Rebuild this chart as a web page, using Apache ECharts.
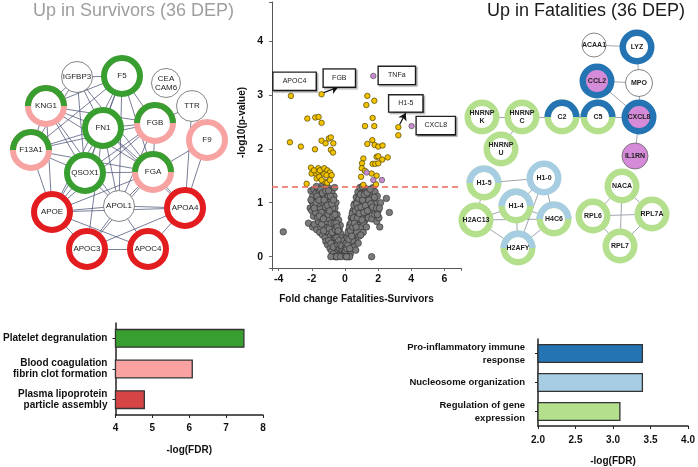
<!DOCTYPE html>
<html><head><meta charset="utf-8">
<script src="https://cdn.jsdelivr.net/npm/echarts@6/dist/echarts.min.js"></script>
<style>html,body{margin:0;padding:0;background:#fff}#c{width:698px;height:467px}</style>
</head><body><div id="c"></div>
<script>
// ================= DATA =================
// Volcano plot: [log fold change (Fatalities - Survivors), -log10(p)]
const greyPoints = [
[-2.05,1.22],[-1.95,1.12],[-1.88,1.25],[-1.8,1.05],[-1.75,1.18],[-1.7,0.95],[-1.65,1.27],[-1.62,1.1],[-1.58,0.88],[-1.55,1.2],
[-1.5,1.02],[-1.47,0.78],[-1.44,1.15],[-1.4,0.92],[-1.38,1.26],[-1.35,0.7],[-1.32,1.08],[-1.3,0.85],[-1.27,1.19],[-1.25,0.62],
[-1.22,0.98],[-1.2,1.28],[-1.18,0.75],[-1.15,1.1],[-1.12,0.55],[-1.1,0.9],[-1.08,1.22],[-1.05,0.68],[-1.03,1.02],[-1.0,0.45],
[-0.98,0.82],[-0.96,1.15],[-0.94,0.58],[-0.92,0.95],[-0.9,1.26],[-0.88,0.38],[-0.86,0.72],[-0.84,1.05],[-0.82,0.5],[-0.8,0.88],
[-0.78,1.2],[-0.76,0.3],[-0.74,0.65],[-0.72,0.98],[-0.7,0.42],[-0.68,0.8],[-0.66,1.12],[-0.64,0.22],[-0.62,0.55],[-0.6,0.9],
[-0.58,0.35],[-0.56,0.7],[-0.54,1.0],[-0.52,0.15],[-0.5,0.48],[-0.48,0.78],[-0.46,0.28],[-0.44,0.6],[-0.42,0.1],[-0.4,0.4],
[-0.38,0.68],[-0.36,0.2],[-0.34,0.5],[-0.32,0.05],[-0.3,0.32],[-0.28,0.58],[-0.26,0.14],[-0.24,0.42],[-0.22,0.25],[-0.2,0.08],
[-0.18,0.35],[-0.16,0.18],[-0.14,0.03],[-0.12,0.26],[-0.1,0.12],[-0.08,0.2],[-0.06,0.06],[-0.04,0.15],[-0.02,0.02],
[-2.2,0.62],[-1.95,0.55],[-2.1,0.9],[-1.9,0.75],[-1.85,0.6],[-1.7,0.5],[-1.6,0.65],[-1.52,0.45],[-1.45,0.55],[-1.35,0.4],
[-1.28,0.48],[-1.2,0.35],[-1.15,0.28],[-1.05,0.22],[-0.98,0.3],[-0.9,0.15],[-0.85,0.25],[-0.8,0.1],[-0.7,0.05],[-0.6,0.0],
[-0.55,0.0],[-0.45,0.0],[-3.72,0.46],[-1.45,1.3],[-1.72,1.3],[-1.1,1.3],[-0.62,1.28],[-1.98,1.02],[-2.0,0.85],[-1.78,0.82],
[-1.66,0.72],[-1.34,0.96],[-1.24,0.8],[-1.14,0.65],[-0.95,0.52],[-0.78,0.45],[-0.7,0.18],[-0.95,0.7],[-1.4,0.6],[-1.5,0.9],
[-1.62,0.98],[-1.9,0.95],[-1.3,1.15],[-1.0,1.12],[-0.74,0.9],
[-1.75,1.0],[-1.68,1.12],[-1.56,1.05],[-1.48,1.25],[-1.42,0.82],[-1.36,1.18],[-1.26,1.05],[-1.18,0.92],[-1.16,1.22],[-1.06,0.95],
[-1.02,0.78],[-0.99,1.22],[-0.93,0.85],[-0.87,1.12],[-0.83,0.62],[-0.79,0.98],[-0.73,0.75],[-0.69,1.05],[-0.65,0.62],[-0.61,0.78],
[-0.57,0.5],[-0.53,0.62],[-0.49,0.35],[-0.47,0.55],[-0.43,0.22],[-0.41,0.48],[-0.37,0.3],[-0.33,0.15],[-0.29,0.22],[-0.27,0.05],
[-0.23,0.12],[-0.19,0.2],[-0.15,0.1],[-0.11,0.05],[-0.07,0.02],[-0.03,0.08],[-0.85,0.0],[-0.5,0.0],[-0.25,0.0],[-1.55,0.75],
[-1.85,0.9],[-2.05,1.05],[-1.3,0.7],
[0.02,0.05],[0.05,0.18],[0.08,0.1],[0.1,0.28],[0.12,0.02],[0.14,0.2],[0.16,0.38],[0.18,0.12],[0.2,0.3],[0.22,0.48],
[0.25,0.22],[0.28,0.42],[0.3,0.6],[0.32,0.05],[0.34,0.35],[0.36,0.55],[0.38,0.72],[0.4,0.25],[0.42,0.5],[0.45,0.68],
[0.48,0.85],[0.5,0.4],[0.52,0.62],[0.55,0.8],[0.58,0.98],[0.6,0.52],[0.62,0.75],[0.65,0.92],[0.68,1.1],[0.7,0.65],
[0.72,0.85],[0.75,1.02],[0.78,1.2],[0.8,0.58],[0.82,0.78],[0.85,0.95],[0.88,1.12],[0.9,0.7],[0.92,0.9],[0.95,1.05],
[0.98,1.25],[1.0,0.82],[1.02,1.0],[1.05,1.18],[1.08,0.75],[1.1,0.95],[1.12,1.12],[1.15,1.28],[1.18,0.88],[1.2,1.05],
[1.22,0.68],[1.25,1.2],[1.28,0.92],[1.3,1.1],[1.32,0.8],[1.35,1.25],[1.38,1.0],[1.4,0.72],[1.42,1.15],[1.45,0.9],
[1.48,1.22],[1.5,1.05],[1.55,0.85],[1.58,1.18],[1.6,0.95],[1.62,0.7],[1.65,1.1],[1.7,1.28],[1.72,0.88],[1.75,1.05],
[1.8,0.78],[1.82,1.2],[1.88,0.98],[1.92,0.65],[1.95,1.12],[2.0,0.85],[2.05,0.72],[2.1,0.55],[2.15,1.0],[2.5,1.08],
[2.68,0.82],[1.61,0.0],[0.25,0.0],[0.15,0.0],[0.38,0.15],[0.6,0.3],[0.7,0.45],[0.85,0.38],[0.55,0.18],[1.0,0.55],
[1.12,0.62],[1.3,0.55],[0.9,1.28],[1.05,1.3],[0.45,0.3],[0.65,0.12],[0.06,0.35],[-0.05,0.3],[0.0,0.1],[0.04,0.0],
[0.03,0.12],[0.07,0.25],[0.11,0.15],[0.13,0.35],[0.17,0.22],[0.19,0.45],[0.23,0.32],[0.27,0.55],[0.29,0.15],[0.33,0.48],
[0.37,0.62],[0.41,0.38],[0.44,0.8],[0.47,0.55],[0.51,0.72],[0.54,0.95],[0.57,0.62],[0.63,0.85],[0.67,0.55],[0.71,0.98],
[0.76,0.72],[0.79,0.9],[0.84,1.08],[0.87,0.8],[0.93,1.15],[0.97,0.92],[1.03,0.68],[1.07,1.05],[1.14,0.82],[1.17,1.15],
[1.24,0.95],[1.33,1.18],[1.36,0.85],[1.44,1.05],[1.52,1.25],[1.57,0.98],[1.66,0.92],[1.78,1.1],[1.9,0.9],[1.96,0.78],
[2.08,0.9],[1.1,0.45],[0.8,0.25],[0.95,0.4],[0.28,0.0],[0.1,0.0]
];
const sigPoints = [
[-3.26,2.98],[-1.41,3.01],[-3.32,2.12],[-2.66,2.04],[-2.27,2.56],[-1.79,2.58],[-1.59,2.59],[-1.41,2.48],[-1.81,1.99],
[-1.41,2.15],[-1.17,2.10],[-0.97,2.19],[-0.85,2.21],[-0.70,2.10],[-0.85,1.98],[-0.72,1.93],
[-2.05,1.65],[-2.01,1.54],[-1.75,1.54],[-1.61,1.64],[-1.61,1.57],[-1.51,1.60],[-1.25,1.64],[-1.07,1.60],[-0.91,1.56],
[-1.25,1.53],[-1.11,1.51],[-1.71,1.45],[-0.80,1.51],[-1.21,1.39],[-1.07,1.37],[-0.91,1.42],[-2.31,1.35],[-1.55,1.48],
[-1.87,1.60],[-1.41,1.42],
[1.35,2.98],[1.29,2.81],[1.77,2.89],[1.67,2.57],[1.21,2.42],[1.77,2.42],[3.22,2.40],[3.22,2.25],[1.65,2.16],[1.35,2.09],
[1.79,2.07],[2.01,2.04],[2.27,2.06],[1.91,1.85],[2.01,1.86],[2.58,1.84],[2.25,1.80],[1.11,1.82],[1.03,1.73],[1.67,1.72],
[1.83,1.72],[2.01,1.73],[1.01,1.64],[1.21,1.59],[0.97,1.48],[1.61,1.54],[1.91,1.50],[1.87,1.34],[1.11,1.33]
];
const highlightPoints = [[1.71,3.35],[4.02,2.42],[1.31,1.56],[1.71,1.42],[2.23,1.42]];
const pThreshold = 1.3;
const volcanoXTicks = [-4,-2,0,2,4,6];
const volcanoYTicks = [0,1,2,3,4];
const annotLabels = ['APOC4','FGB','TNFa','H1-5','CXCL8'];
const annotAnchors = [[-3.04,3.25],[-0.34,3.31],[3.13,3.36],[3.67,2.84],[5.48,2.43]];
const annotArrows = [[[-1.28,3.04],[-0.42,3.14]],[[3.30,2.45],[3.66,2.66]]];

// Enrichment bars
const survivorTerms = ['Platelet degranulation','Blood coagulation\nfibrin clot formation','Plasma lipoprotein\nparticle assembly'];
const survivorFDR = [7.5, 6.1, 4.8];
const fatalityTerms = ['Pro-inflammatory immune\nresponse','Nucleosome organization','Regulation of gene\nexpression'];
const fatalityFDR = [3.4, 3.4, 3.1];
const survivorXTicks = [4,5,6,7,8];
const fatalityXTicks = [2.0,2.5,3.0,3.5,4.0];

// Networks: proteins, labels, term membership (P platelet, C coagulation, L lipoprotein)
const survivorProteins = ['IGFBP3','F5','CEACAM6','TTR','KNG1','FN1','FGB','F9','F13A1','QSOX1','FGA','APOE','APOL1','APOA4','APOC3','APOC4'];
const survivorLabels   = ['IGFBP3','F5','CEA\nCAM6','TTR','KNG1','FN1','FGB','F9','F13A1','QSOX1','FGA','APOE','APOL1','APOA4','APOC3','APOC4'];
const survivorTermsOf  = ['','P','','','PC','P','PC','C','PC','P','PC','L','','L','L','L'];
const survivorLinks = [
['F5','IGFBP3'],['F5','KNG1'],['F5','FN1'],['F5','FGB'],['F5','F13A1'],['F5','QSOX1'],['F5','FGA'],['F5','APOL1'],['F5','APOE'],
['KNG1','IGFBP3'],['KNG1','FN1'],['KNG1','F13A1'],['KNG1','FGB'],['KNG1','QSOX1'],['KNG1','FGA'],['KNG1','APOE'],['KNG1','APOL1'],
['IGFBP3','FN1'],['IGFBP3','QSOX1'],['IGFBP3','FGA'],['IGFBP3','F13A1'],
['FN1','FGB'],['FN1','F13A1'],['FN1','QSOX1'],['FN1','FGA'],['FN1','APOE'],['FN1','APOL1'],['FN1','APOA4'],['FN1','APOC3'],
['FGB','FGA'],['FGB','F13A1'],['FGB','QSOX1'],['FGB','APOL1'],['FGB','APOE'],['FGB','TTR'],
['F13A1','QSOX1'],['F13A1','FGA'],['F13A1','APOE'],
['QSOX1','FGA'],['QSOX1','APOE'],['QSOX1','APOL1'],
['FGA','APOL1'],['FGA','APOE'],['FGA','APOA4'],['FGA','F9'],['FGA','APOC3'],
['APOE','APOL1'],['APOE','APOA4'],['APOE','APOC3'],['APOE','APOC4'],
['APOL1','APOA4'],['APOL1','APOC3'],['APOL1','APOC4'],
['APOA4','APOC3'],['APOA4','APOC4'],['APOA4','TTR'],['APOA4','F9'],['APOC3','APOC4']
];
// (I inflammatory, N nucleosome, G gene expression); cytokines measured separately are filled
const fatalityProteins = ['ACAA1','LYZ','CCL2','MPO','C2','C5','CXCL8','HNRNPK','HNRNPC','HNRNPU','IL1RN','H1-5','H1-0','H1-4','H2AC13','H4C6','H2AFY','NACA','RPL6','RPL7A','RPL7'];
const fatalityLabels   = ['ACAA1','LYZ','CCL2','MPO','C2','C5','CXCL8','HNRNP\nK','HNRNP\nC','HNRNP\nU','IL1RN','H1-5','H1-0','H1-4','H2AC13','H4C6','H2AFY','NACA','RPL6','RPL7A','RPL7'];
const fatalityTermsOf  = ['','I','I','','IG','IG','I','G','G','G','','NG','N','NG','G','NG','NG','G','G','G','G'];
const fatalityCytokine = ['CCL2','CXCL8','IL1RN'];
const fatalityLinks = [
['ACAA1','LYZ'],['LYZ','MPO'],['CCL2','MPO'],['CCL2','CXCL8'],['MPO','CXCL8'],['CXCL8','C5'],['C5','C2'],['C2','HNRNPC'],
['HNRNPC','HNRNPK'],['HNRNPC','HNRNPU'],['CXCL8','IL1RN'],
['H1-5','H1-0'],['H1-5','H2AC13'],['H1-0','H1-4'],['H1-0','H4C6'],['H1-0','H2AFY'],['H1-4','H2AC13'],['H1-4','H4C6'],
['H1-4','H2AFY'],['H2AC13','H4C6'],['H2AC13','H2AFY'],['H4C6','H2AFY'],
['NACA','RPL6'],['NACA','RPL7A'],['NACA','RPL7'],['RPL6','RPL7A'],['RPL6','RPL7'],['RPL7A','RPL7']
];

// ================= LAYOUT / STYLE =================
const survivorLayout = [[77,77],[122,76],[166,83],[192,106],[46,106],[103,128],[155,123],[207,140],[31,150],[85,173],[153,172],[52,212],[119,206],[185,208],[87,249],[148,249]];
const fatalityLayout = [[594,45],[637,47],[597,81],[639,83],[562,117],[598,117],[639,117],[482,117],[522,117],[501,149],[635,156],[484,183],[544,178],[516,206],[476,220],[554,219],[518,248],[622,186],[593,216],[652,214],[620,246]];
const annotBoxSizes = [[42,17],[31,17],[36,17],[33,16],[38,17]];
const termColors = {P:'#379e2f', C:'#f7a3a2', L:'#e31c1f', I:'#2474b4', N:'#a7cde3', G:'#b4df8d'};
const FONT = 'Liberation Sans, Arial, sans-serif';

function halfRingPath(R, r){
  return 'path://M' + (-R) + ',0A' + R + ',' + R + ',0,0,1,' + R + ',0L' + r + ',0A' + r + ',' + r + ',0,0,0,' + (-r) + ',0Z';
}

function buildNetwork(names, labels, termsOf, layout, cfg){
  const nodes = [], overlay = [];
  names.forEach((n, i) => {
    const t = termsOf[i];
    const fill = (cfg.filled && cfg.filled.indexOf(n) >= 0) ? cfg.fillColor : '#fff';
    const label = {show:true, formatter: labels[i], fontSize: cfg.fontSize, fontWeight: cfg.fontWeight, color:'#222', fontFamily: FONT, lineHeight: cfg.fontSize + 1};
    if (t.length) {
      nodes.push({name:n, value:layout[i], symbolSize: cfg.ringD - cfg.ringW,
        itemStyle:{color: fill, borderColor: termColors[t[t.length-1]], borderWidth: cfg.ringW, opacity:1}, label});
      if (t.length > 1) {
        overlay.push({value: layout[i], symbol: halfRingPath(cfg.ringD/2, cfg.ringD/2 - cfg.ringW),
          symbolSize:[cfg.ringD, cfg.ringD/2], symbolOffset:[0, -cfg.ringD/4], itemStyle:{color: termColors[t[0]], opacity:1}});
      }
    } else {
      nodes.push({name:n, value:layout[i], symbolSize: (cfg.plainD[n] || 30),
        itemStyle:{color: fill, borderColor:'#666', borderWidth:0.8, opacity:1}, label});
    }
  });
  return {nodes, overlay};
}

const netS = buildNetwork(survivorProteins, survivorLabels, survivorTermsOf, survivorLayout,
  {ringD:42, ringW:6, fontSize:8, fontWeight:'normal', plainD:{IGFBP3:31, CEACAM6:29, TTR:31, APOL1:31}});
const netF = buildNetwork(fatalityProteins, fatalityLabels, fatalityTermsOf, fatalityLayout,
  {ringD:35, ringW:6.5, fontSize:7, fontWeight:'bold', plainD:{ACAA1:24, MPO:27, IL1RN:26}, filled: fatalityCytokine, fillColor:'#d68bd8'});

function tickFmt(list, digits){
  return v => { for (const t of list) { if (Math.abs(v - t) < 1e-6) return digits ? t.toFixed(digits) : String(t); } return ''; };
}

const boldAxisLabel = {fontWeight:'bold', fontSize:10, color:'#111', fontFamily: FONT};

const option = {
  animation:false,
  backgroundColor:'#fff',
  title:[
    {text:'Up in Survivors (36 DEP)', left:33, top:2, padding:0, textStyle:{fontSize:18, fontWeight:'normal', color:'#9e9e9e', fontFamily:FONT}},
    {text:'Up in Fatalities (36 DEP)', left:487, top:2, padding:0, textStyle:{fontSize:18, fontWeight:'normal', color:'#1a1a1a', fontFamily:FONT}}
  ],
  grid:[
    {left:272, top:2, width:189, height:266, containLabel:false},
    {left:0, top:0, width:698, height:467},
    {left:111, top:323, width:152, height:92},
    {left:538, top:339, width:152, height:92}
  ],
  xAxis:[
    {gridIndex:0, type:'value', min:-4.4, max:7, splitLine:{show:false},
      axisLine:{onZero:false, lineStyle:{color:'#555', width:1}}, axisTick:{show:true, length:3, lineStyle:{color:'#666'}},
      axisLabel:{formatter: tickFmt(volcanoXTicks), margin:6, fontSize:10.5, fontWeight:'bold', color:'#111', fontFamily:FONT},
      name:'Fold change Fatalities-Survivors', nameLocation:'middle', nameGap:26,
      nameTextStyle:{fontWeight:'bold', fontSize:10, color:'#111', fontFamily:FONT, padding:[0,20,0,0]}},
    {gridIndex:1, type:'value', min:0, max:698, show:false},
    {gridIndex:2, type:'value', min:4, max:8, interval:1, splitLine:{show:false},
      axisLine:{show:true, lineStyle:{color:'#222', width:1.5}}, axisTick:{show:true, length:3, lineStyle:{color:'#222'}},
      axisLabel:Object.assign({formatter: tickFmt(survivorXTicks), margin:8}, boldAxisLabel),
      name:'-log(FDR)', nameLocation:'middle', nameGap:30, nameTextStyle:{fontWeight:'bold', fontSize:10, color:'#111', fontFamily:FONT}},
    {gridIndex:3, type:'value', min:2, max:4, interval:0.5, splitLine:{show:false},
      axisLine:{show:true, lineStyle:{color:'#222', width:1.5}}, axisTick:{show:true, length:3, lineStyle:{color:'#222'}},
      axisLabel:Object.assign({formatter: tickFmt(fatalityXTicks, 1), margin:9}, boldAxisLabel),
      name:'-log(FDR)', nameLocation:'middle', nameGap:30, nameTextStyle:{fontWeight:'bold', fontSize:10, color:'#111', fontFamily:FONT}}
  ],
  yAxis:[
    {gridIndex:0, type:'value', min:-0.21, max:4.72, splitLine:{show:false},
      axisLine:{show:true, onZero:false, lineStyle:{color:'#555', width:1}}, axisTick:{show:true, length:3, lineStyle:{color:'#666'}},
      axisLabel:{formatter: tickFmt(volcanoYTicks), margin:9, fontSize:10.5, fontWeight:'bold', color:'#111', fontFamily:FONT},
      name:'-log10(p-value)', nameLocation:'middle', nameGap:25, nameRotate:90,
      nameTextStyle:{fontWeight:'bold', fontSize:10, color:'#111', fontFamily:FONT, padding:[0,0,0,25]}},
    {gridIndex:1, type:'value', min:0, max:467, inverse:true, show:false},
    {gridIndex:2, type:'category', data:survivorTerms, inverse:true,
      axisLine:{show:true, lineStyle:{color:'#222', width:1.5}}, axisTick:{show:true, alignWithLabel:true, length:3, lineStyle:{color:'#222'}},
      axisLabel:Object.assign({margin:8, lineHeight:11, align:'right'}, boldAxisLabel)},
    {gridIndex:3, type:'category', data:fatalityTerms, inverse:true,
      axisLine:{show:true, lineStyle:{color:'#222', width:1.5}}, axisTick:{show:true, alignWithLabel:true, length:3, lineStyle:{color:'#222'}},
      axisLabel:Object.assign({margin:13, lineHeight:13, align:'right'}, boldAxisLabel, {fontSize:9.5})}
  ],
  series:[
    {type:'scatter', xAxisIndex:0, yAxisIndex:0, data:greyPoints, symbolSize:6.5, z:2,
      itemStyle:{color:'#7b7b7b', borderColor:'#2a2a2a', borderWidth:0.6, opacity:1},
      markLine:{silent:true, symbol:'none', label:{show:false}, data:[{yAxis:pThreshold}],
        lineStyle:{type:[6,4], color:'#ee6a58', width:1.5}}},
    {type:'scatter', xAxisIndex:0, yAxisIndex:0, data:sigPoints, symbolSize:5.5, z:3,
      itemStyle:{color:'#f2c200', borderColor:'#4d4000', borderWidth:0.7, opacity:1}},
    {type:'scatter', xAxisIndex:0, yAxisIndex:0, data:highlightPoints, symbolSize:5.5, z:3,
      itemStyle:{color:'#c98bd0', borderColor:'#555', borderWidth:0.7, opacity:1}},
    {type:'scatter', xAxisIndex:0, yAxisIndex:0, z:5, symbol:'rect', symbolSize:2, silent:true,
      itemStyle:{color:'rgba(255,255,255,0)', opacity:1},
      data: annotLabels.map((t,i)=>({name:t, value:annotAnchors[i],
        label:{width:annotBoxSizes[i][0], height:annotBoxSizes[i][1], lineHeight:annotBoxSizes[i][1]}})),
      label:{show:true, position:'inside', formatter:'{b}', fontSize:7, color:'#222', fontFamily:FONT,
        align:'center', verticalAlign:'middle', padding:0,
        backgroundColor:'#ffffff', borderColor:'#222', borderWidth:1.4,
        shadowColor:'rgba(0,0,0,0.3)', shadowBlur:1, shadowOffsetX:1.5, shadowOffsetY:1.5},
      markLine:{silent:true, symbol:['none','arrow'], symbolSize:7, label:{show:false},
        lineStyle:{type:'solid', color:'#111', width:1.2},
        data: annotArrows.map(a => [{coord:a[0]},{coord:a[1]}])}},
    {type:'graph', layout:'none', coordinateSystem:'cartesian2d', xAxisIndex:1, yAxisIndex:1, z:2,
      data: netS.nodes, links: survivorLinks.map(l=>({source:l[0], target:l[1]})),
      lineStyle:{color:'#4f5679', width:0.9, opacity:0.85}, label:{show:true}},
    {type:'scatter', coordinateSystem:'cartesian2d', xAxisIndex:1, yAxisIndex:1, z:3, data: netS.overlay, silent:true},
    {type:'graph', layout:'none', coordinateSystem:'cartesian2d', xAxisIndex:1, yAxisIndex:1, z:2,
      data: netF.nodes, links: fatalityLinks.map(l=>({source:l[0], target:l[1]})),
      lineStyle:{color:'#8a8f99', width:0.9, opacity:0.9}, label:{show:true}},
    {type:'scatter', coordinateSystem:'cartesian2d', xAxisIndex:1, yAxisIndex:1, z:3, data: netF.overlay, silent:true},
    {type:'bar', xAxisIndex:2, yAxisIndex:2, barWidth:19,
      data: survivorFDR.map((v,i)=>({value:v, itemStyle:{color:[termColors.P, '#f9a2a1', '#d64546'][i]}})),
      itemStyle:{borderColor:'#333', borderWidth:1.3}},
    {type:'bar', xAxisIndex:3, yAxisIndex:3, barWidth:19,
      data: fatalityFDR.map((v,i)=>({value:v, itemStyle:{color:[termColors.I, termColors.N, termColors.G][i]}})),
      itemStyle:{borderColor:'#333', borderWidth:1.3}}
  ]
};
const chart = echarts.init(document.getElementById('c'));
chart.setOption(option);
</script></body></html>
